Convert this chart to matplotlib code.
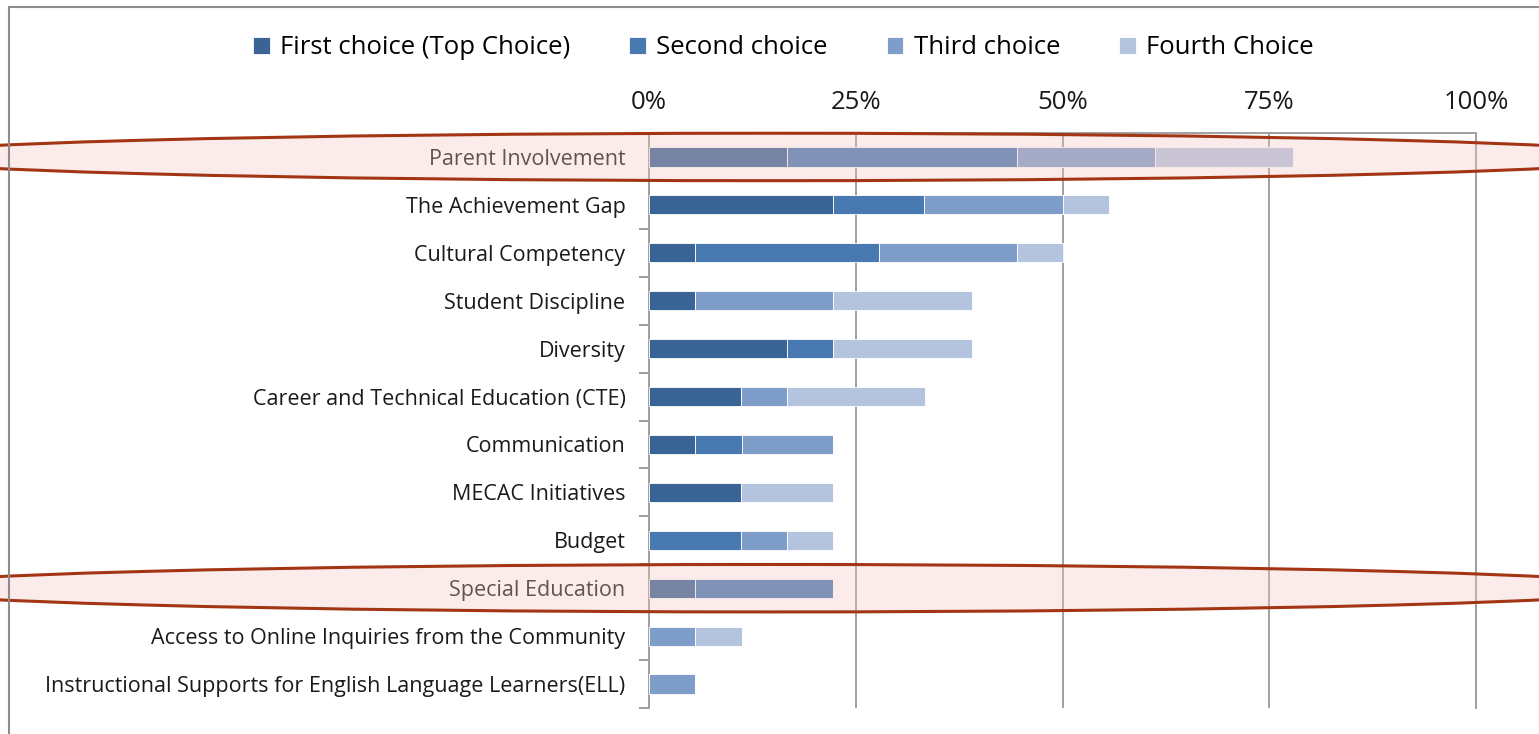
import matplotlib.pyplot as plt
import matplotlib.transforms as mtransforms
from matplotlib.patches import Ellipse
from matplotlib.lines import Line2D
import numpy as np

plt.rcParams['font.family'] = ['Open Sans', 'DejaVu Sans']

# data (percent of respondents)
categories = ['Parent Involvement', 'The Achievement Gap', 'Cultural Competency',
              'Student Discipline', 'Diversity', 'Career and Technical Education (CTE)',
              'Communication', 'MECAC Initiatives', 'Budget', 'Special Education',
              'Access to Online Inquiries from the Community',
              'Instructional Supports for English Language Learners(ELL)']
first = [16.7, 22.2, 5.6, 5.6, 16.7, 11.1, 5.6, 11.1, 0, 5.6, 0, 0]
second = [27.8, 11.1, 22.2, 0, 5.6, 0, 5.6, 0, 11.1, 16.7, 0, 0]
third = [16.7, 16.7, 16.7, 16.7, 0, 5.6, 11.1, 0, 5.6, 0, 5.6, 5.6]
fourth = [16.7, 5.6, 5.6, 16.7, 16.7, 16.7, 0, 11.1, 5.6, 0, 5.6, 0]
series_names = ['First choice (Top Choice)', 'Second choice', 'Third choice', 'Fourth Choice']
colors = ['#3b6496', '#4879b0', '#7f9dc9', '#b4c4df']
highlighted = ['Parent Involvement', 'Special Education']

fig = plt.figure(figsize=(15.39, 7.34), dpi=100)
ax = fig.add_axes([649/1539, 1-708/734, 827/1539, 575/734])

y = np.arange(len(categories))
left = np.zeros(len(categories))
for vals, name, c in zip([first, second, third, fourth], series_names, colors):
    ax.barh(y, vals, left=left, height=0.4, color=c, edgecolor='white', linewidth=0.6,
            label=name, zorder=3)
    left += np.array(vals)

ax.set_xlim(0, 100)
ax.set_ylim(len(categories)-0.5, -0.5)
ax.xaxis.tick_top()
ax.set_xticks([0, 25, 50, 75, 100])
ax.set_xticklabels(['0%', '25%', '50%', '75%', '100%'])
ax.tick_params(axis='x', length=0, pad=13, labelsize=18.5, labelcolor='#1a1a1a')
ax.set_yticks(y)
ax.set_yticklabels(categories)
ax.tick_params(axis='y', which='major', length=0, pad=17, labelsize=15.5, labelcolor='#1a1a1a')
ax.set_yticks(np.arange(len(categories)+1)-0.5, minor=True)
ax.tick_params(axis='y', which='minor', length=7, color='#8c8c8c', width=1.2)
ax.grid(axis='x', color='#a0a0a0', linewidth=1.4, zorder=0)
for s in ['left', 'top', 'right']:
    ax.spines[s].set_color('#a0a0a0')
    ax.spines[s].set_linewidth(1.4)
ax.spines['bottom'].set_visible(False)

# highlight ellipses
trans = mtransforms.blended_transform_factory(ax.transAxes, ax.transData)
for name in highlighted:
    i = categories.index(name)
    e = Ellipse((0.146, i), 2.14, 0.99, transform=trans, facecolor=(245/255, 200/255, 195/255, 0.33),
                edgecolor='#a33414', linewidth=2.2, zorder=10, clip_on=False)
    ax.add_patch(e)

fig.legend(loc='center', bbox_to_anchor=(0.509, 0.935), ncol=4, frameon=False,
           fontsize=18.5, handlelength=0.65, handleheight=0.65, handletextpad=0.4,
           columnspacing=2.3)

# chart frame
fig.add_artist(Line2D([9/1539, 9/1539], [0, 1-7/734], color='#8c8c8c', linewidth=1.5))
fig.add_artist(Line2D([9/1539, 1], [1-7/734, 1-7/734], color='#8c8c8c', linewidth=1.5))

fig.savefig('out.png', dpi=100)
